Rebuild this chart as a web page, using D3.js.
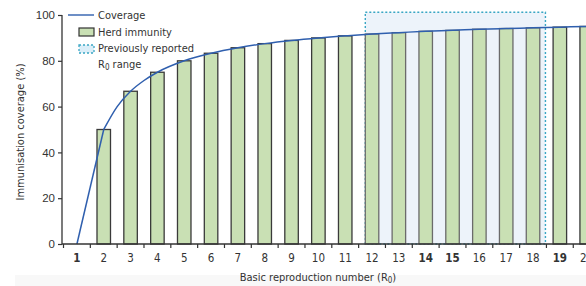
<!DOCTYPE html>
<html>
<head>
<meta charset="utf-8">
<script src="https://cdn.jsdelivr.net/npm/d3@7"></script>
<style>
  body { margin: 0; background: #fff; }
  svg { display: block; font-family: "Liberation Sans Narrow", "DejaVu Sans Condensed", sans-serif; }
</style>
</head>
<body>
<div id="chart"></div>
<script>
// R0 categories on the x axis
var r0Labels = [1,2,3,4,5,6,7,8,9,10,11,12,13,14,15,16,17,18,19,20];
var herdR0 = [2,3,4,5,6,7,8,9,10,11,12,13,14,15,16,17,18,19,20];
var herdVals = [50,66.7,75,80,83.3,85.7,87.5,88.9,90,90.9,91.7,92.3,92.9,93.3,93.8,94.1,94.4,94.7,95];
// coverage curve points (straight from R0=1 to 2, smooth afterwards)
var covR0 = [1,2,2.5,3,3.5,4,5,6,7,8,9,10,11,12,13,14,15,16,17,18,19,20,21];
var covVals = [0,50,60,66.7,71.4,75,80,83.3,85.7,87.5,88.9,90,90.9,91.7,92.3,92.9,93.3,93.8,94.1,94.4,94.7,95,95.2];
// previously reported range
var prevRange = [12,18];
var yTicks = [0,20,40,60,80,100];

var W = 586, H = 286;
var svg = d3.select("#chart").append("svg").attr("width",W).attr("height",H);

// faint scan tint at bottom
svg.append("rect").attr("x",15).attr("y",275).attr("width",W-15).attr("height",11).attr("fill","#f8f8f8");

var x0 = 63.5, step = 26.83;
var xb = d3.scaleBand().domain(r0Labels).range([x0, x0+step*r0Labels.length]).paddingInner(0).paddingOuter(0);
var bw = 13.5;
var xl = d3.scaleLinear().domain([1,20]).range([xb(1)+step/2, xb(20)+step/2]);
var y = d3.scaleLinear().domain([0,100]).range([244,15]);

// previously reported range box
var rx1 = xl(prevRange[0]) - bw/2;
var rx2 = xb(prevRange[1]) + step - 1;
svg.append("rect").attr("x",rx1).attr("y",y(101.2)).attr("width",rx2-rx1).attr("height",y(0)-y(101.2))
  .attr("fill","#edf3fa").attr("stroke","#3aa6c4").attr("stroke-width",1.4).attr("stroke-dasharray","2,2");

// bars
svg.selectAll("rect.bar").data(herdR0).enter().append("rect").attr("class","bar")
  .attr("x",function(d){return xl(d)-bw/2;})
  .attr("y",function(d,i){return y(herdVals[i]);})
  .attr("width",bw)
  .attr("height",function(d,i){return y(0)-y(herdVals[i]);})
  .attr("fill","#c9e0b4")
  .attr("stroke",function(d){return (d>=prevRange[0]&&d<=prevRange[1])?"#6b6b6b":"#3a3a3a";})
  .attr("stroke-width",1.3);

// coverage line
var pts = covR0.map(function(r,i){return [r,covVals[i]];});
var lin = d3.line().x(function(d){return xl(d[0]);}).y(function(d){return y(d[1]);});
var smooth = d3.line().x(function(d){return xl(d[0]);}).y(function(d){return y(d[1]);}).curve(d3.curveMonotoneX);
svg.append("path").datum(pts.slice(0,2)).attr("d",lin).attr("fill","none").attr("stroke","#2f5fae").attr("stroke-width",1.5);
svg.append("path").datum(pts.slice(1)).attr("d",smooth).attr("fill","none").attr("stroke","#2f5fae").attr("stroke-width",1.5);

// y axis
var yAxis = d3.axisLeft(y).tickValues(yTicks).tickSize(4).tickPadding(3);
var gy = svg.append("g").attr("transform","translate(62,0)").call(yAxis);
gy.select(".domain").attr("stroke","#333").attr("stroke-width",1.3).attr("d","M0,"+y(100)+"V"+y(0));
gy.selectAll(".tick line").attr("stroke","#333").attr("stroke-width",1.2);
gy.selectAll("text").attr("font-size",11.5).attr("fill","#333");

// x axis: baseline with ticks between categories
var gx = svg.append("g");
gx.append("line").attr("x1",62).attr("x2",W).attr("y1",y(0)).attr("y2",y(0)).attr("stroke","#333").attr("stroke-width",1.3);
gx.selectAll("line.t").data(r0Labels).enter().append("line").attr("class","t")
  .attr("x1",function(d){return xb(d);}).attr("x2",function(d){return xb(d);})
  .attr("y1",y(0)).attr("y2",y(0)+4).attr("stroke","#333").attr("stroke-width",1.2);
gx.selectAll("text").data(r0Labels).enter().append("text")
  .attr("x",function(d){return xb(d)+step/2;}).attr("y",262)
  .attr("text-anchor","middle").attr("font-size",11.5).attr("fill","#333")
  .attr("font-weight",function(d){return (d===1||d===14||d===15||d===19)?"bold":"normal";})
  .text(function(d){return d;});

// axis titles
svg.append("text").attr("transform","translate(24,132) rotate(-90)").attr("text-anchor","middle")
  .attr("font-size",11).attr("fill","#333").text("Immunisation coverage (%)");
var xt = svg.append("text").attr("x",318).attr("y",281).attr("text-anchor","middle").attr("font-size",11).attr("fill","#333");
xt.append("tspan").text("Basic reproduction number (R");
xt.append("tspan").attr("font-size",8).attr("dy",2).text("0");
xt.append("tspan").attr("dy",-2).text(")");

// legend
var lg = svg.append("g");
lg.append("line").attr("x1",68).attr("x2",94).attr("y1",15).attr("y2",15).attr("stroke","#2f5fae").attr("stroke-width",1.4);
lg.append("text").attr("x",98).attr("y",19).attr("font-size",11).attr("fill","#333").text("Coverage");
lg.append("rect").attr("x",79).attr("y",28).attr("width",15).attr("height",8).attr("fill","#c9e0b4").attr("stroke","#333").attr("stroke-width",1.2);
lg.append("text").attr("x",98).attr("y",36).attr("font-size",11).attr("fill","#333").text("Herd immunity");
lg.append("rect").attr("x",79).attr("y",45).attr("width",15).attr("height",8).attr("fill","#dbeef8").attr("stroke","#3aa6c4").attr("stroke-width",1.3).attr("stroke-dasharray","2,2");
lg.append("text").attr("x",98).attr("y",52).attr("font-size",11).attr("fill","#333").text("Previously reported");
var lt = lg.append("text").attr("x",98).attr("y",68).attr("font-size",11).attr("fill","#333");
lt.append("tspan").text("R");
lt.append("tspan").attr("font-size",8).attr("dy",2).text("0");
lt.append("tspan").attr("dy",-2).text(" range");
</script>
</body>
</html>
